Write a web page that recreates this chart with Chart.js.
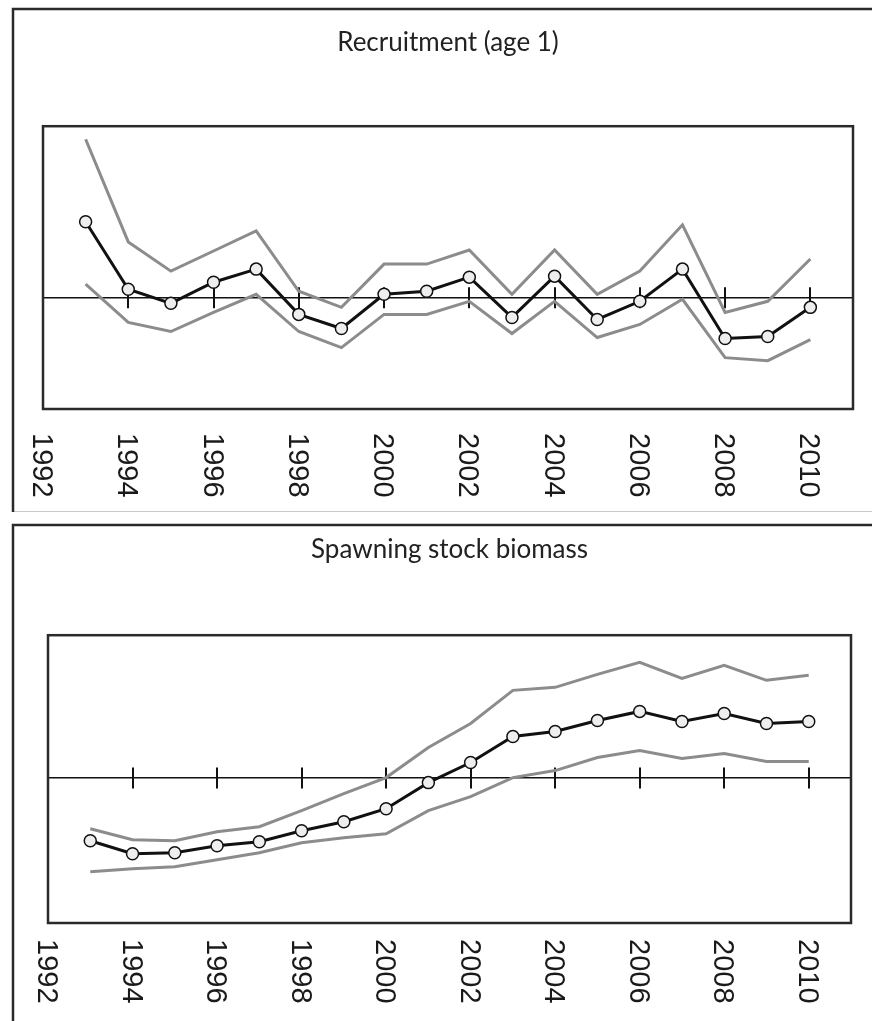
<!DOCTYPE html>
<html>
<head>
<meta charset="utf-8">
<script src="https://cdn.jsdelivr.net/npm/chart.js@4.4.1/dist/chart.umd.min.js"></script>
<style>
  body { margin: 0; background: #fff; }
  canvas { position: absolute; left: 0; }
  #recruit { top: 0; }
  #ssb { top: 512px; }
</style>
</head>
<body>
<canvas id="recruit" width="872" height="512"></canvas>
<canvas id="ssb" width="872" height="509"></canvas>
<script>
// years with estimates, and the labelled years on the axis
const years = [1993, 1994, 1995, 1996, 1997, 1998, 1999, 2000, 2001, 2002,
               2003, 2004, 2005, 2006, 2007, 2008, 2009, 2010];
const tickYears = [1992, 1994, 1996, 1998, 2000, 2002, 2004, 2006, 2008, 2010];

// recruitment (age 1), relative to the mean line
const recruitMid  = [0.75, 0.08, -0.06, 0.15, 0.28, -0.17, -0.31, 0.03, 0.06, 0.20,
                     -0.20, 0.21, -0.22, -0.04, 0.28, -0.41, -0.39, -0.10];
const recruitHigh = [1.57, 0.55, 0.26, 0.46, 0.66, 0.06, -0.10, 0.33, 0.33, 0.47,
                     0.03, 0.47, 0.03, 0.26, 0.72, -0.15, -0.04, 0.38];
const recruitLow  = [0.13, -0.25, -0.34, -0.15, 0.03, -0.34, -0.50, -0.17, -0.17, -0.04,
                     -0.36, -0.04, -0.40, -0.27, -0.02, -0.60, -0.63, -0.42];

// spawning stock biomass
const ssbMid  = [-0.63, -0.76, -0.75, -0.68, -0.64, -0.53, -0.44, -0.31, -0.05, 0.15,
                 0.41, 0.46, 0.57, 0.66, 0.56, 0.64, 0.54, 0.56];
const ssbHigh = [-0.51, -0.62, -0.63, -0.54, -0.49, -0.33, -0.16, 0.00, 0.30, 0.54,
                 0.87, 0.90, 1.03, 1.15, 0.99, 1.12, 0.97, 1.02];
const ssbLow  = [-0.94, -0.91, -0.89, -0.82, -0.75, -0.65, -0.60, -0.56, -0.33, -0.19,
                 0.00, 0.07, 0.20, 0.27, 0.19, 0.24, 0.16, 0.16];

function pts(vals) {
    return years.map(function (yr, i) { return { x: yr, y: vals[i] }; });
}

// outer frame, plot box, crossing ticks on the zero line, rotated year labels
const framePlugin = {
    id: 'frame',
    beforeDatasetsDraw(chart, args, opts) {
        const ctx = chart.ctx, xs = chart.scales.x, ys = chart.scales.y;
        const y0 = ys.getPixelForValue(0);
        ctx.save();
        ctx.strokeStyle = '#111';
        ctx.lineWidth = 2;
        tickYears.slice(1).forEach(function (yr) {
            const px = Math.round(xs.getPixelForValue(yr));
            ctx.beginPath();
            ctx.moveTo(px, y0 - 10);
            ctx.lineTo(px, y0 + 11);
            ctx.stroke();
        });
        ctx.restore();
    },
    afterDraw(chart, args, opts) {
        const ctx = chart.ctx, a = chart.chartArea, xs = chart.scales.x;
        ctx.save();
        ctx.strokeStyle = '#2a2a2a';
        ctx.lineWidth = 2.5;
        ctx.strokeRect(a.left, a.top, a.right - a.left, a.bottom - a.top);
        ctx.strokeRect(opts.box[0], opts.box[1], opts.box[2], opts.box[3]);

        ctx.fillStyle = '#1a1a1a';
        ctx.font = '29px "Liberation Sans", Arial, sans-serif';
        ctx.textAlign = 'left';
        ctx.textBaseline = 'middle';
        tickYears.forEach(function (yr) {
            ctx.save();
            ctx.translate(xs.getPixelForValue(yr) - 2, a.bottom + opts.labelGap);
            ctx.rotate(Math.PI / 2);
            ctx.fillText(String(yr), 0, 0);
            ctx.restore();
        });
        ctx.restore();
    }
};

function makeChart(id, title, mid, high, low, yMin, yMax, padding, titlePad, frame) {
    return new Chart(document.getElementById(id), {
        type: 'line',
        data: {
            datasets: [{
                data: pts(mid),
                borderColor: '#111',
                borderWidth: 3,
                pointRadius: 6,
                pointBackgroundColor: '#eeeeee',
                pointBorderColor: '#111',
                pointBorderWidth: 1.5
            }, {
                data: pts(high),
                borderColor: '#8c8c8c',
                borderWidth: 3,
                pointRadius: 0
            }, {
                data: pts(low),
                borderColor: '#8c8c8c',
                borderWidth: 3,
                pointRadius: 0
            }]
        },
        options: {
            responsive: false,
            animation: false,
            layout: { padding: padding },
            plugins: {
                legend: { display: false },
                tooltip: { enabled: false },
                title: {
                    display: true,
                    text: title,
                    color: '#222',
                    font: { family: 'Lato', size: 26, weight: 'normal' },
                    padding: titlePad
                },
                frame: frame
            },
            scales: {
                x: {
                    type: 'linear',
                    min: 1992,
                    max: 2011,
                    ticks: { display: false, stepSize: 2, includeBounds: false },
                    grid: { display: false, drawTicks: false },
                    border: { display: false }
                },
                y: {
                    min: yMin,
                    max: yMax,
                    ticks: { display: false, stepSize: 0.5 },
                    grid: {
                        drawTicks: false,
                        lineWidth: 1.5,
                        color: function (c) { return c.tick && c.tick.value === 0 ? '#111' : 'rgba(0,0,0,0)'; }
                    },
                    border: { display: false }
                }
            }
        },
        plugins: [framePlugin]
    });
}

makeChart('recruit', 'Recruitment (age 1)', recruitMid, recruitHigh, recruitLow,
    -1.11, 1.70,
    { left: 43, right: 19, top: 0, bottom: 103 },
    { top: 27, bottom: 68 },
    { box: [13, 9, 900, 504], labelGap: 24 });

makeChart('ssb', 'Spawning stock biomass', ssbMid, ssbHigh, ssbLow,
    -1.45, 1.42,
    { left: 48, right: 21, top: 0, bottom: 98 },
    { top: 22, bottom: 70 },
    { box: [13, 13, 900, 540], labelGap: 16 });
</script>
</body>
</html>
